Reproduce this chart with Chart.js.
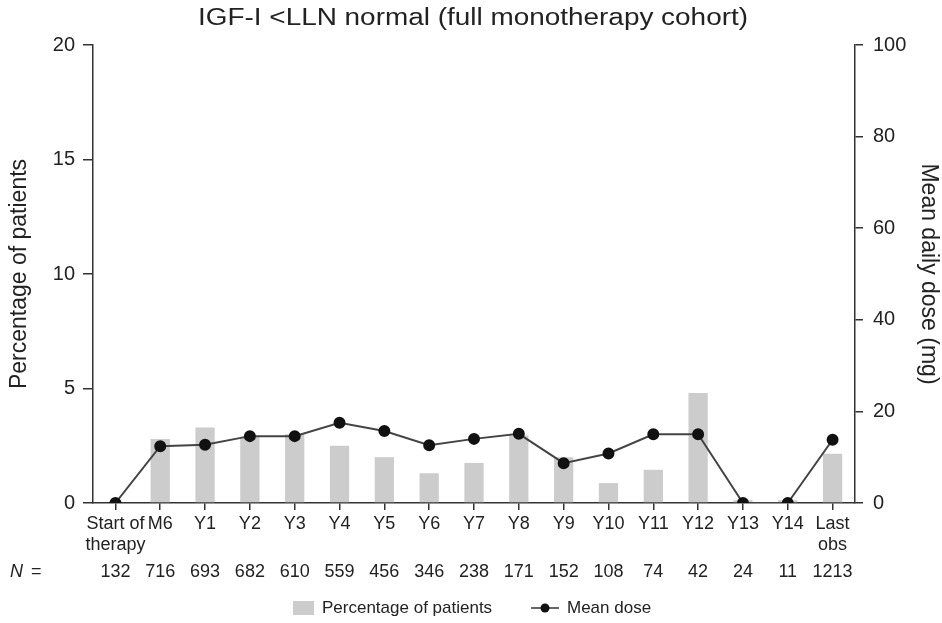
<!DOCTYPE html>
<html>
<head>
<meta charset="utf-8">
<script src="https://cdn.jsdelivr.net/npm/chart.js@4.4.1/dist/chart.umd.min.js"></script>
<style>
  html, body { margin: 0; padding: 0; background: #fff; }
  #wrap { width: 942px; height: 623px; position: relative; }
</style>
</head>
<body>
<div id="wrap"><canvas id="c" width="942" height="623"></canvas></div>
<script>
// visit labels along the x axis
const visits = [['Start of', 'therapy'], 'M6', 'Y1', 'Y2', 'Y3', 'Y4', 'Y5', 'Y6', 'Y7', 'Y8', 'Y9', 'Y10', 'Y11', 'Y12', 'Y13', 'Y14', ['Last', 'obs']];
// N per visit
const nPatients = [132, 716, 693, 682, 610, 559, 456, 346, 238, 171, 152, 108, 74, 42, 24, 11, 1213];
// % of patients with IGF-I below LLN (left axis)
const pctPatients = [0, 2.8, 3.3, 2.9, 3.0, 2.5, 2.0, 1.3, 1.75, 2.95, 2.0, 0.87, 1.45, 4.8, 0.12, 0.12, 2.15];
// mean daily dose in mg (right axis)
const meanDose = [0, 12.4, 12.7, 14.6, 14.6, 17.5, 15.7, 12.6, 14.0, 15.1, 8.7, 10.8, 15.0, 15.0, 0, 0, 13.8];
const leftTicks = [0, 5, 10, 15, 20];
const rightTicks = [0, 20, 40, 60, 80, 100];

const FONT = "'Liberation Sans', Arial, sans-serif";
const INK = '#222';
const TITLE = 'IGF-I <LLN normal (full monotherapy cohort)';

const extras = {
  id: 'extras',
  afterDraw(chart) {
    const ctx = chart.ctx;
    const x = chart.scales.x;
    ctx.save();
    // title (the original is set in a wide face, so stretch it a little)
    ctx.fillStyle = INK;
    ctx.font = '23px ' + FONT;
    ctx.textAlign = 'center';
    ctx.textBaseline = 'middle';
    const w = ctx.measureText(TITLE).width;
    ctx.save();
    ctx.translate(473, 19);
    ctx.scale(550 / w, 1);
    ctx.fillText(TITLE, 0, 0);
    ctx.restore();

    // N row
    ctx.font = '18px ' + FONT;
    nPatients.forEach((n, i) => {
      ctx.fillText(String(n), x.getPixelForValue(i), 572);
    });
    ctx.textAlign = 'left';
    ctx.font = 'italic 18px ' + FONT;
    ctx.fillText('N', 10, 572);
    ctx.font = '18px ' + FONT;
    ctx.fillText('=', 31, 572);

    // legend
    ctx.fillStyle = '#cccccc';
    ctx.fillRect(293, 601, 21, 14);
    ctx.fillStyle = INK;
    ctx.font = '17px ' + FONT;
    ctx.fillText('Percentage of patients', 322, 608);
    ctx.strokeStyle = '#333';
    ctx.lineWidth = 1.5;
    ctx.beginPath();
    ctx.moveTo(531, 608);
    ctx.lineTo(559, 608);
    ctx.stroke();
    ctx.fillStyle = '#111';
    ctx.beginPath();
    ctx.arc(545, 608, 4.5, 0, Math.PI * 2);
    ctx.fill();
    ctx.fillStyle = INK;
    ctx.fillText('Mean dose', 567, 608);
    ctx.restore();
  }
};

new Chart(document.getElementById('c'), {
  type: 'bar',
  data: {
    labels: visits,
    datasets: [
      {
        type: 'line',
        label: 'Mean dose',
        data: meanDose,
        yAxisID: 'y2',
        borderColor: '#444',
        borderWidth: 2,
        pointBackgroundColor: '#111',
        pointBorderColor: '#111',
        pointRadius: 5,
        tension: 0,
        order: 0
      },
      {
        label: 'Percentage of patients',
        data: pctPatients,
        yAxisID: 'y',
        backgroundColor: '#cccccc',
        categoryPercentage: 1,
        barPercentage: 0.43,
        order: 1
      }
    ]
  },
  options: {
    responsive: false,
    animation: false,
    layout: { padding: { top: 45, left: 0, right: 0, bottom: 0 } },
    plugins: {
      legend: { display: false },
      title: { display: false },
      tooltip: { enabled: false }
    },
    scales: {
      x: {
        offset: true,
        grid: { display: true, offset: false, drawOnChartArea: false, drawTicks: true, tickLength: 7, color: '#333', lineWidth: 1.5 },
        border: { display: true, color: '#333', width: 1.5 },
        ticks: { color: INK, font: { family: FONT, size: 18 }, maxRotation: 0, autoSkip: false, padding: 3 },
        afterFit(s) { s.height = 120; }
      },
      y: {
        position: 'left',
        min: 0, max: 20,
        afterBuildTicks(s) { s.ticks = leftTicks.map(v => ({ value: v })); },
        grid: { display: true, drawOnChartArea: false, drawTicks: true, tickLength: 10, color: '#333', lineWidth: 1.5 },
        border: { display: true, color: '#333', width: 1.5 },
        ticks: { color: INK, font: { family: FONT, size: 20 }, padding: 8 },
        title: { display: true, text: 'Percentage of patients', color: INK, font: { family: FONT, size: 23 }, padding: { top: 6, bottom: 0 } },
        afterFit(s) { s.width = 93; }
      },
      y2: {
        position: 'right',
        min: 0, max: 100,
        afterBuildTicks(s) { s.ticks = rightTicks.map(v => ({ value: v })); },
        grid: { display: true, drawOnChartArea: false, drawTicks: true, tickLength: 8, color: '#333', lineWidth: 1.5 },
        border: { display: true, color: '#333', width: 1.5 },
        ticks: { color: INK, font: { family: FONT, size: 20 }, padding: 10 },
        title: { display: true, text: 'Mean daily dose (mg)', color: INK, font: { family: FONT, size: 23 }, padding: { top: 0, bottom: 2 } },
        afterFit(s) { s.width = 87; }
      }
    }
  },
  plugins: [extras]
});
</script>
</body>
</html>
